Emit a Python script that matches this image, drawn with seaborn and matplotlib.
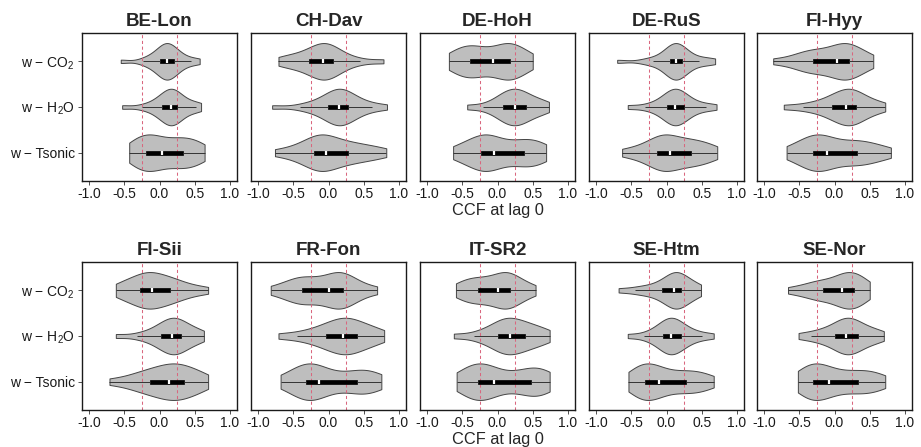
import numpy as np
import pandas as pd
import matplotlib
matplotlib.use("Agg")
import matplotlib.pyplot as plt
import seaborn as sns

# ---------------- data ----------------
sites = ["BE-Lon", "CH-Dav", "DE-HoH", "DE-RuS", "FI-Hyy",
         "FI-Sii", "FR-Fon", "IT-SR2", "SE-Htm", "SE-Nor"]
variables = ["w-CO2", "w-H2O", "w-Tsonic"]
var_labels = ["w \u2212 CO$_2$", "w \u2212 H$_2$O", "w \u2212 Tsonic"]
thresholds = [-0.25, 0.25]
x_ticks = [-1.0, -0.5, 0.0, 0.5, 1.0]
x_tick_labels = ["-1.0", "-0.5", "0.0", "0.5", "1.0"]
x_label = "CCF at lag 0"

BE_Lon_CO2 = [-0.55, -0.24, -0.15, -0.08, -0.03, 0.01, 0.03, 0.05, 0.07, 0.09, 0.10,
              0.12, 0.14, 0.16, 0.18, 0.20, 0.24, 0.28, 0.34, 0.45, 0.57]
BE_Lon_H2O = [-0.53, -0.25, -0.12, -0.04, 0.01, 0.04, 0.07, 0.10, 0.12, 0.15, 0.17,
              0.18, 0.20, 0.22, 0.24, 0.25, 0.30, 0.36, 0.43, 0.52, 0.59]
BE_Lon_Ts = [-0.43, -0.38, -0.32, -0.27, -0.23, -0.19, -0.14, -0.10, -0.06, -0.01, 0.04,
             0.11, 0.18, 0.24, 0.29, 0.34, 0.39, 0.45, 0.51, 0.58, 0.64]

CH_Dav_CO2 = [-0.71, -0.60, -0.50, -0.41, -0.33, -0.27, -0.22, -0.18, -0.14, -0.11, -0.085,
              -0.05, -0.02, 0.01, 0.04, 0.06, 0.12, 0.19, 0.28, 0.45, 0.78]
CH_Dav_H2O = [-0.80, -0.40, -0.25, -0.14, -0.06, -0.01, 0.03, 0.07, 0.10, 0.13, 0.15,
              0.17, 0.20, 0.23, 0.26, 0.28, 0.34, 0.41, 0.50, 0.62, 0.83]
CH_Dav_Ts = [-0.76, -0.55, -0.42, -0.33, -0.26, -0.21, -0.17, -0.13, -0.10, -0.07, -0.04,
             0.01, 0.07, 0.14, 0.21, 0.28, 0.36, 0.45, 0.55, 0.67, 0.82]

DE_HoH_CO2 = [-0.69, -0.62, -0.55, -0.48, -0.43, -0.39, -0.34, -0.29, -0.22, -0.14, -0.065,
              0.01, 0.07, 0.11, 0.15, 0.18, 0.22, 0.27, 0.33, 0.41, 0.50]
DE_HoH_H2O = [-0.43, -0.20, -0.07, 0.01, 0.05, 0.08, 0.12, 0.16, 0.19, 0.22, 0.245,
              0.27, 0.30, 0.34, 0.37, 0.40, 0.45, 0.51, 0.57, 0.65, 0.73]
DE_HoH_Ts = [-0.63, -0.52, -0.42, -0.35, -0.29, -0.24, -0.20, -0.16, -0.12, -0.09, -0.05,
             0.04, 0.13, 0.22, 0.30, 0.37, 0.43, 0.49, 0.55, 0.62, 0.69]

DE_RuS_CO2 = [-0.70, -0.30, -0.19, -0.07, 0.01, 0.05, 0.07, 0.09, 0.10, 0.12, 0.13,
              0.14, 0.16, 0.18, 0.20, 0.22, 0.27, 0.33, 0.46, 0.56, 0.69]
DE_RuS_H2O = [-0.55, -0.30, -0.17, -0.08, -0.03, 0.005, 0.04, 0.07, 0.09, 0.11, 0.12,
              0.14, 0.17, 0.20, 0.22, 0.245, 0.29, 0.35, 0.44, 0.56, 0.71]
DE_RuS_Ts = [-0.63, -0.45, -0.33, -0.24, -0.18, -0.13, -0.09, -0.05, -0.02, 0.02, 0.05,
             0.11, 0.17, 0.23, 0.29, 0.35, 0.41, 0.47, 0.54, 0.63, 0.72]

FI_Hyy_CO2 = [-0.87, -0.62, -0.50, -0.42, -0.35, -0.30, -0.23, -0.16, -0.09, -0.02, 0.04,
              0.08, 0.12, 0.15, 0.18, 0.21, 0.25, 0.30, 0.37, 0.45, 0.55]
FI_Hyy_H2O = [-0.72, -0.45, -0.30, -0.18, -0.09, -0.04, 0.01, 0.06, 0.10, 0.14, 0.17,
              0.20, 0.23, 0.26, 0.29, 0.31, 0.36, 0.42, 0.50, 0.60, 0.72]
FI_Hyy_Ts = [-0.68, -0.56, -0.46, -0.39, -0.34, -0.30, -0.26, -0.22, -0.18, -0.14, -0.10,
             -0.01, 0.08, 0.17, 0.25, 0.32, 0.38, 0.45, 0.54, 0.66, 0.80]

FI_Sii_CO2 = [-0.62, -0.54, -0.46, -0.39, -0.33, -0.28, -0.24, -0.20, -0.16, -0.13, -0.10,
              -0.05, 0.00, 0.05, 0.10, 0.15, 0.21, 0.28, 0.37, 0.50, 0.69]
FI_Sii_H2O = [-0.62, -0.32, -0.18, -0.08, -0.02, 0.02, 0.06, 0.10, 0.13, 0.16, 0.18,
              0.21, 0.24, 0.27, 0.29, 0.31, 0.36, 0.42, 0.48, 0.55, 0.63]
FI_Sii_Ts = [-0.71, -0.48, -0.36, -0.27, -0.19, -0.13, -0.07, -0.01, 0.05, 0.09, 0.13,
             0.18, 0.22, 0.27, 0.31, 0.35, 0.40, 0.46, 0.53, 0.61, 0.69]

FR_Fon_CO2 = [-0.82, -0.64, -0.53, -0.46, -0.41, -0.37, -0.31, -0.24, -0.16, -0.07, 0.01,
              0.07, 0.11, 0.14, 0.17, 0.20, 0.24, 0.29, 0.36, 0.48, 0.69]
FR_Fon_H2O = [-0.71, -0.45, -0.30, -0.18, -0.09, -0.04, 0.02, 0.08, 0.13, 0.17, 0.20,
              0.24, 0.28, 0.32, 0.36, 0.40, 0.46, 0.53, 0.60, 0.69, 0.79]
FR_Fon_Ts = [-0.68, -0.55, -0.46, -0.40, -0.36, -0.32, -0.28, -0.24, -0.20, -0.16, -0.13,
             -0.03, 0.07, 0.18, 0.30, 0.40, 0.46, 0.52, 0.58, 0.66, 0.75]

IT_SR2_CO2 = [-0.59, -0.52, -0.45, -0.38, -0.33, -0.28, -0.22, -0.16, -0.10, -0.04, 0.01,
              0.05, 0.09, 0.12, 0.15, 0.18, 0.22, 0.27, 0.33, 0.42, 0.54]
IT_SR2_H2O = [-0.62, -0.33, -0.20, -0.10, -0.04, 0.005, 0.05, 0.09, 0.12, 0.15, 0.18,
              0.22, 0.26, 0.31, 0.35, 0.39, 0.45, 0.51, 0.58, 0.66, 0.74]
IT_SR2_Ts = [-0.58, -0.49, -0.42, -0.37, -0.32, -0.28, -0.24, -0.20, -0.15, -0.10, -0.05,
             0.07, 0.19, 0.30, 0.39, 0.47, 0.52, 0.57, 0.62, 0.68, 0.74]

SE_Htm_CO2 = [-0.68, -0.45, -0.33, -0.22, -0.13, -0.07, -0.02, 0.03, 0.06, 0.09, 0.11,
              0.13, 0.15, 0.17, 0.19, 0.21, 0.25, 0.30, 0.36, 0.42, 0.49]
SE_Htm_H2O = [-0.55, -0.32, -0.21, -0.13, -0.09, -0.055, -0.02, 0.01, 0.03, 0.05, 0.07,
              0.09, 0.12, 0.15, 0.18, 0.20, 0.25, 0.31, 0.39, 0.50, 0.67]
SE_Htm_Ts = [-0.54, -0.47, -0.42, -0.38, -0.34, -0.31, -0.27, -0.23, -0.19, -0.15, -0.11,
             -0.04, 0.04, 0.12, 0.20, 0.27, 0.34, 0.41, 0.48, 0.56, 0.67]

SE_Nor_CO2 = [-0.66, -0.48, -0.37, -0.29, -0.22, -0.17, -0.10, -0.03, 0.03, 0.07, 0.11,
              0.15, 0.18, 0.21, 0.24, 0.27, 0.31, 0.35, 0.39, 0.44, 0.50]
SE_Nor_H2O = [-0.51, -0.33, -0.22, -0.13, -0.06, 0.00, 0.05, 0.09, 0.12, 0.15, 0.17,
              0.20, 0.24, 0.27, 0.30, 0.33, 0.38, 0.45, 0.52, 0.60, 0.70]
SE_Nor_Ts = [-0.52, -0.46, -0.41, -0.37, -0.33, -0.30, -0.26, -0.21, -0.17, -0.12, -0.08,
             0.00, 0.09, 0.17, 0.25, 0.33, 0.40, 0.47, 0.54, 0.62, 0.72]

site_samples = {
    "BE-Lon": [BE_Lon_CO2, BE_Lon_H2O, BE_Lon_Ts],
    "CH-Dav": [CH_Dav_CO2, CH_Dav_H2O, CH_Dav_Ts],
    "DE-HoH": [DE_HoH_CO2, DE_HoH_H2O, DE_HoH_Ts],
    "DE-RuS": [DE_RuS_CO2, DE_RuS_H2O, DE_RuS_Ts],
    "FI-Hyy": [FI_Hyy_CO2, FI_Hyy_H2O, FI_Hyy_Ts],
    "FI-Sii": [FI_Sii_CO2, FI_Sii_H2O, FI_Sii_Ts],
    "FR-Fon": [FR_Fon_CO2, FR_Fon_H2O, FR_Fon_Ts],
    "IT-SR2": [IT_SR2_CO2, IT_SR2_H2O, IT_SR2_Ts],
    "SE-Htm": [SE_Htm_CO2, SE_Htm_H2O, SE_Htm_Ts],
    "SE-Nor": [SE_Nor_CO2, SE_Nor_H2O, SE_Nor_Ts],
}

rows = []
for s in sites:
    for v, vals in zip(variables, site_samples[s]):
        for val in vals:
            rows.append((s, v, val))
df = pd.DataFrame(rows, columns=["site", "var", "ccf"])

# ---------------- style ----------------
sns.set_theme(style="white")
plt.rcParams["font.family"] = ["Liberation Sans", "DejaVu Sans"]
plt.rcParams["mathtext.fontset"] = "custom"
plt.rcParams["mathtext.rm"] = "Liberation Sans"
plt.rcParams["mathtext.it"] = "Liberation Sans:italic"
plt.rcParams["mathtext.bf"] = "Liberation Sans:bold"

W, H = 921, 447
fig = plt.figure(figsize=(W / 100, H / 100), dpi=100)
fig.patch.set_facecolor("white")

lefts = [82, 251, 420, 589, 757]
tops = [33, 262]
pw, ph = 155, 148

for i, s in enumerate(sites):
    r, c = divmod(i, 5)
    ax = fig.add_axes([lefts[c] / W, 1 - (tops[r] + ph) / H, pw / W, ph / H])
    d = df[df["site"] == s]
    sns.violinplot(data=d, x="ccf", y="var", order=variables, orient="h",
                   color="#BEBEBE", saturation=1, linecolor="#444444",
                   linewidth=0.7, width=0.8, density_norm="width", cut=0,
                   inner=None, bw_adjust=0.85, ax=ax)
    for t in thresholds:
        ax.axvline(t, color="#D9667E", ls=(0, (3, 2.5)), lw=0.75, zorder=1.5)
    sns.boxplot(data=d, x="ccf", y="var", order=variables, orient="h",
                width=0.085, color="black", saturation=1, showcaps=False,
                showfliers=False, linewidth=0.5, linecolor="black",
                medianprops=dict(color="white", linewidth=1.6),
                whiskerprops=dict(color="#333333", linewidth=0.7), ax=ax)
    ax.set_xlim(-1.1, 1.1)
    ax.set_ylim(2.62, -0.62)
    ax.set_xticks(x_ticks)
    ax.set_xticklabels(x_tick_labels)
    ax.set_yticks(range(len(variables)))
    ax.set_ylabel("")
    ax.set_xlabel("")
    ax.tick_params(axis="x", bottom=True, direction="out", length=3, width=0.6,
                   color="#333333", labelsize=10, labelcolor="#1a1a1a", pad=1.5)
    if c == 0:
        ax.set_yticklabels(var_labels)
        ax.tick_params(axis="y", left=True, direction="out", length=3, width=0.6,
                       color="#333333", labelsize=10, labelcolor="#1a1a1a", pad=2)
    else:
        ax.tick_params(axis="y", left=False, labelleft=False)
    for sp in ax.spines.values():
        sp.set_visible(True)
        sp.set_color("#1a1a1a")
        sp.set_linewidth(1.0)
    ax.set_title(s, fontsize=13.5, fontweight="bold", pad=5)
    if c == 2:
        ax.set_xlabel(x_label, fontsize=11.8, labelpad=1)

fig.savefig("out.png", dpi=100, facecolor="white")
